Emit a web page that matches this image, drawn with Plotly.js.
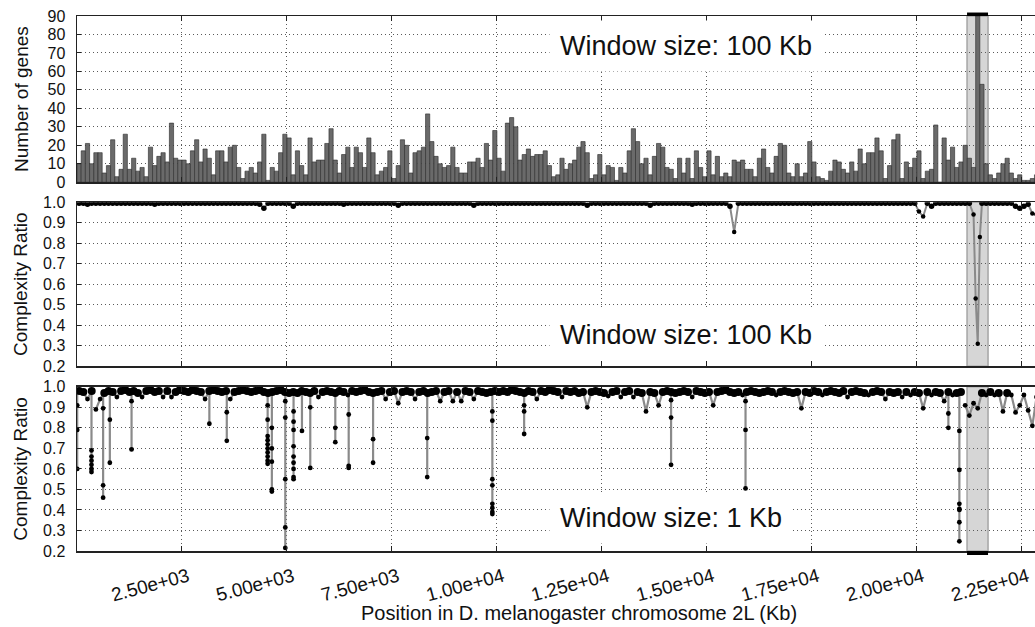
<!DOCTYPE html>
<html>
<head>
<meta charset="utf-8">
<script src="https://cdn.plot.ly/plotly-3.0.1.min.js"></script>
<style>
html,body{margin:0;padding:0;background:#fff;overflow:hidden;}
#chart{width:1042px;height:627px;}
</style>
</head>
<body>
<div id="chart"></div>
<script>
// ---------------- DATA ----------------
const windowKb = 100; // bin width of the 100 Kb windows

// Number of genes per 100 Kb window (window i covers [100*i, 100*i+100) Kb)
const geneCounts = [
  10,17,21,10,16,16,5,9,23,3,7,26,7,13,6,8,3,19,9,14,
  16,11,32,13,12,12,10,17,23,11,18,13,4,17,17,11,19,20,8,2,
  6,8,5,11,26,1,8,6,16,26,24,4,17,9,4,24,11,12,12,21,
  29,12,5,15,19,8,19,16,8,24,16,4,6,8,17,2,9,23,20,5,
  16,17,19,37,22,14,10,8,9,19,8,5,5,11,11,13,8,21,12,28,
  13,6,32,35,30,12,15,18,14,15,15,17,9,3,4,13,7,10,12,19,
  22,16,2,4,15,4,9,8,1,8,5,17,29,22,10,13,4,14,21,19,
  8,7,2,13,5,13,2,17,8,3,17,4,14,3,5,3,12,11,12,7,
  7,3,13,18,8,5,14,21,20,5,3,10,3,5,22,11,3,2,1,6,
  12,11,7,5,11,6,18,10,16,16,24,17,2,9,23,26,2,11,8,13,
  17,2,6,7,31,0,24,12,19,8,11,20,13,8,90,53,10,4,2,5,
  10,13,5,2,4,1,1,2,4
];

// Complexity ratio, 100 Kb windows
const ratio100 = [
  0.995,0.995,0.99,0.995,0.995,0.995,0.995,0.995,0.995,0.995,0.995,0.995,0.995,0.995,0.995,0.995,0.995,0.995,0.99,0.995,
  0.995,0.995,0.995,0.995,0.995,0.995,0.995,0.995,0.995,0.995,0.995,0.995,0.995,0.995,0.995,0.995,0.995,0.995,0.995,0.995,
  0.995,0.995,0.995,0.99,0.97,0.995,0.995,0.995,0.995,0.995,0.995,0.98,0.995,0.995,0.995,0.995,0.995,0.995,0.995,0.995,
  0.995,0.995,0.995,0.99,0.995,0.995,0.995,0.995,0.995,0.995,0.995,0.995,0.995,0.995,0.995,0.995,0.985,0.995,0.995,0.995,
  0.995,0.995,0.995,0.995,0.995,0.995,0.995,0.995,0.995,0.995,0.995,0.995,0.995,0.995,0.985,0.995,0.995,0.995,0.995,0.995,
  0.995,0.995,0.995,0.995,0.995,0.995,0.995,0.995,0.995,0.995,0.995,0.995,0.995,0.995,0.995,0.995,0.995,0.995,0.995,0.995,
  0.995,0.985,0.995,0.995,0.995,0.995,0.995,0.995,0.995,0.995,0.995,0.995,0.995,0.995,0.995,0.995,0.985,0.995,0.995,0.995,
  0.995,0.995,0.995,0.995,0.995,0.995,0.99,0.995,0.995,0.995,0.995,0.995,0.995,0.995,0.995,0.98,0.855,0.995,0.995,0.995,
  0.995,0.995,0.995,0.995,0.995,0.995,0.995,0.995,0.995,0.995,0.995,0.995,0.995,0.995,0.995,0.995,0.995,0.995,0.995,0.995,
  0.995,0.995,0.995,0.995,0.995,0.995,0.995,0.995,0.995,0.995,0.995,0.995,0.995,0.995,0.995,0.995,0.995,0.995,0.995,0.995,
  0.955,0.93,0.995,0.98,0.995,0.995,0.995,0.995,0.995,0.995,0.995,0.995,0.995,0.94,0.31,0.995,0.995,0.995,0.995,0.995,
  0.995,0.995,0.995,0.98,0.97,0.98,0.99,0.945,0.94
];
// extra 100 Kb points read inside the highlighted region (Kb, ratio)
const ratio100ExtraPos = [21400, 21500];
const ratio100ExtraVal = [0.53, 0.83];

// Complexity ratio, 1 Kb windows: level of the dense band, sampled per 100 Kb
const ratio1Band = [
  0.98,0.975,0.94,0.98,0.89,0.94,0.97,0.98,0.975,0.95,0.98,0.985,0.975,0.98,0.97,0.95,0.98,0.985,0.975,0.98,
  0.95,0.98,0.95,0.975,0.985,0.98,0.975,0.985,0.98,0.975,0.94,0.98,0.985,0.98,0.975,0.98,0.94,0.975,0.98,0.985,
  0.98,0.975,0.98,0.985,0.975,0.97,0.975,0.98,0.985,0.975,0.97,0.975,0.97,0.98,0.975,0.97,0.98,0.95,0.975,0.98,
  0.975,0.97,0.98,0.975,0.96,0.98,0.975,0.98,0.985,0.975,0.97,0.975,0.98,0.94,0.975,0.98,0.92,0.975,0.98,0.975,
  0.94,0.975,0.98,0.97,0.975,0.98,0.93,0.975,0.98,0.93,0.975,0.93,0.98,0.975,0.94,0.98,0.975,0.97,0.975,0.98,
  0.975,0.98,0.975,0.985,0.98,0.975,0.97,0.98,0.975,0.94,0.98,0.975,0.985,0.98,0.975,0.95,0.98,0.975,0.98,0.97,
  0.975,0.90,0.975,0.98,0.975,0.97,0.955,0.975,0.98,0.95,0.975,0.98,0.95,0.975,0.97,0.88,0.975,0.97,0.91,0.975,
  0.98,0.975,0.97,0.975,0.98,0.975,0.95,0.98,0.975,0.97,0.975,0.91,0.975,0.98,0.985,0.975,0.97,0.975,0.96,0.975,
  0.98,0.975,0.97,0.975,0.98,0.975,0.96,0.975,0.98,0.975,0.97,0.975,0.895,0.975,0.97,0.98,0.975,0.96,0.975,0.98,
  0.975,0.97,0.98,0.95,0.975,0.98,0.975,0.97,0.96,0.975,0.98,0.975,0.94,0.975,0.97,0.975,0.95,0.975,0.96,0.975,
  0.97,0.895,0.975,0.96,0.975,0.97,0.93,0.975,0.96,0.97,0.975,0.91,0.86,0.92,0.895,0.97,0.96,0.975,0.96,0.97,
  0.88,0.97,0.96,0.875,0.91,0.96,0.885,0.81,0.95
];
// deep 1 Kb dips: position (Kb) and the ratios of the points along each drop
const ratio1DipPos = [5, 345, 622, 782, 1299, 3152, 3567, 4540, 4640, 4960, 5157, 5357, 5555,
  6151, 6470, 7051, 8340, 9891, 10648, 14147, 15920, 20750, 21012];
const ratio1DipVals = [
  [0.91, 0.79, 0.60],
  [0.69, 0.66, 0.64, 0.62, 0.60, 0.585],
  [0.895, 0.52, 0.46],
  [0.84, 0.63],
  [0.93, 0.695],
  [0.82],
  [0.876, 0.737],
  [0.91, 0.84, 0.76, 0.74, 0.72, 0.70, 0.68, 0.66, 0.64, 0.625],
  [0.80, 0.70, 0.635, 0.50, 0.49],
  [0.93, 0.85, 0.55, 0.315, 0.215],
  [0.88, 0.83, 0.79, 0.71, 0.66, 0.63, 0.60, 0.56, 0.55],
  [0.785],
  [0.90, 0.605],
  [0.80, 0.73],
  [0.865, 0.615, 0.605],
  [0.745, 0.63],
  [0.75, 0.56],
  [0.88, 0.835, 0.55, 0.52, 0.43, 0.41, 0.39, 0.38],
  [0.91, 0.88, 0.77],
  [0.935, 0.85, 0.62],
  [0.93, 0.79, 0.505],
  [0.87, 0.80],
  [0.785, 0.595, 0.43, 0.405, 0.40, 0.34, 0.247]
];

const highlightKb = [21195, 21695];
const xTickVals = [2500, 5000, 7500, 10000, 12500, 15000, 17500, 20000, 22500];
const xTickText = ['2.50e+03','5.00e+03','7.50e+03','1.00e+04','1.25e+04','1.50e+04','1.75e+04','2.00e+04','2.25e+04'];
const ratioTickVals = [0.2,0.3,0.4,0.5,0.6,0.7,0.8,0.9,1.0];
const ratioTickText = ['0.2','0.3','0.4','0.5','0.6','0.7','0.8','0.9','1.0'];
const geneTickVals = [0,10,20,30,40,50,60,70,80,90];

const label100 = 'Window size: 100 Kb';
const label1 = 'Window size: 1 Kb';
const xTitle = 'Position in D. melanogaster chromosome 2L (Kb)';
const yTitleGenes = 'Number of genes';
const yTitleRatio = 'Complexity Ratio';

// ---------------- BUILD ----------------
const centerOf = i => i * windowKb + windowKb / 2;
const centers = geneCounts.map((_, i) => centerOf(i));

// 100 Kb ratio line (window centres plus extra points, ordered by position)
const mid = ratio100.map((v, i) => ({x: centerOf(i), y: v}))
  .concat(ratio100ExtraPos.map((p, k) => ({x: p, y: ratio100ExtraVal[k]})))
  .sort((a, b) => a.x - b.x);

// 1 Kb ratio: gray connecting line (band + vertical drops)
const bx = [], by = [];
const dx = [], dy = [];
ratio1Band.forEach((v, i) => {
  bx.push(centerOf(i)); by.push(v);
  ratio1DipPos.forEach((p, k) => {
    if (p >= i * windowKb && p < (i + 1) * windowKb) {
      bx.push(null); by.push(null);
      bx.push(p); by.push(v);
      ratio1DipVals[k].forEach(d => { bx.push(p); by.push(d); dx.push(p); dy.push(d); });
      bx.push(null); by.push(null);
    }
  });
});

const lineGray = '#8a8a8a';
const sizeFor = (v, big, small) => v >= 0.965 ? big : small;
const dot = (size) => ({color: '#000', size: size, opacity: 1, line: {width: 0}});
const traces = [
  {type: 'bar', x: centers, y: geneCounts, width: windowKb, xaxis: 'x', yaxis: 'y',
   marker: {color: '#6a6a6a', line: {color: '#2a2a2a', width: 0.6}}, hoverinfo: 'x+y'},
  // 100 Kb complexity ratio
  {type: 'scatter', mode: 'lines+markers', x: mid.map(p => p.x), y: mid.map(p => p.y),
   xaxis: 'x2', yaxis: 'y2', line: {color: lineGray, width: 2},
   marker: dot(mid.map(p => sizeFor(p.y, 5.5, 4.5)))},
  // 1 Kb complexity ratio: line
  {type: 'scatter', mode: 'lines', x: bx, y: by, connectgaps: false,
   xaxis: 'x3', yaxis: 'y3', line: {color: lineGray, width: 2.2}, hoverinfo: 'skip'},
  // 1 Kb: band points
  {type: 'scatter', mode: 'markers', x: centers, y: ratio1Band, xaxis: 'x3', yaxis: 'y3',
   marker: dot(ratio1Band.map(v => sizeFor(v, 8, 4.8)))},
  // 1 Kb: points along the drops
  {type: 'scatter', mode: 'markers', x: dx, y: dy, xaxis: 'x3', yaxis: 'y3',
   marker: dot(4.8)}
];

const FONT = 'Liberation Sans, Arial, Helvetica, sans-serif';
const xRange = [0, 22980];
const GRID = {showgrid: true, gridcolor: '#5a5a5a', griddash: '1px,3px', gridwidth: 1};
const xBase = Object.assign({
  range: xRange, tickmode: 'array', tickvals: xTickVals, ticktext: xTickText,
  showline: true, linecolor: '#222', linewidth: 1.5, mirror: 'ticks',
  ticks: 'inside', ticklen: 5, tickcolor: '#222',
  zeroline: false, showticklabels: false, fixedrange: true
}, GRID);
const yBase = Object.assign({
  showline: true, linecolor: '#222', linewidth: 1.5, mirror: 'ticks',
  ticks: 'inside', ticklen: 4, tickcolor: '#222',
  zeroline: false, tickfont: {family: FONT, size: 16, color: '#111'},
  ticklabelstandoff: 7, fixedrange: true
}, GRID);
const titleFont = {family: FONT, size: 19, color: '#111'};

const layout = {
  width: 1042, height: 627,
  margin: {l: 77, r: 0, t: 16, b: 76},
  paper_bgcolor: '#fff', plot_bgcolor: '#fff',
  showlegend: false,
  font: {family: FONT, color: '#111'},
  xaxis: Object.assign({}, xBase, {anchor: 'y', domain: [0, 1]}),
  xaxis2: Object.assign({}, xBase, {anchor: 'y2', domain: [0, 1], matches: 'x'}),
  xaxis3: Object.assign({}, xBase, {anchor: 'y3', domain: [0, 1], matches: 'x',
    showticklabels: true, tickangle: -15, ticklabelshift: 6,
    tickfont: {family: FONT, size: 19, color: '#111'}, ticklabelstandoff: 6}),
  yaxis: Object.assign({}, yBase, {domain: [0.6893, 1], range: [0, 90],
    tickmode: 'array', tickvals: geneTickVals, anchor: 'x',
    title: {text: yTitleGenes, font: titleFont, standoff: 14}}),
  yaxis2: Object.assign({}, yBase, {domain: [0.3454, 0.6520], range: [0.2, 1.0],
    tickmode: 'array', tickvals: ratioTickVals, ticktext: ratioTickText, anchor: 'x2',
    title: {text: yTitleRatio, font: titleFont, standoff: 10}}),
  yaxis3: Object.assign({}, yBase, {domain: [0, 0.3069], range: [0.2, 1.0],
    tickmode: 'array', tickvals: ratioTickVals, ticktext: ratioTickText, anchor: 'x3',
    title: {text: yTitleRatio, font: titleFont, standoff: 10}}),
  shapes: [
    {type: 'rect', xref: 'x', yref: 'y domain', x0: highlightKb[0], x1: highlightKb[1], y0: 0, y1: 1,
     fillcolor: '#d6d6d6', line: {color: '#a6a6a6', width: 1.5}, layer: 'below'},
    {type: 'rect', xref: 'x2', yref: 'y2 domain', x0: highlightKb[0], x1: highlightKb[1], y0: 0, y1: 1,
     fillcolor: '#d6d6d6', line: {color: '#a6a6a6', width: 1.5}, layer: 'below'},
    {type: 'rect', xref: 'x3', yref: 'y3 domain', x0: highlightKb[0], x1: highlightKb[1], y0: 0, y1: 1,
     fillcolor: '#d6d6d6', line: {color: '#a6a6a6', width: 1.5}, layer: 'below'},
    {type: 'rect', xref: 'x', yref: 'paper', x0: highlightKb[0], x1: highlightKb[1], y0: 1.0, y1: 1.0065,
     fillcolor: '#000', line: {width: 0}, layer: 'above'},
    {type: 'rect', xref: 'x3', yref: 'paper', x0: highlightKb[0], x1: highlightKb[1], y0: -0.0075, y1: 0,
     fillcolor: '#000', line: {width: 0}, layer: 'above'}
  ],
  annotations: [
    {xref: 'x', yref: 'y', x: 14505, y: 74, text: label100, showarrow: false,
     font: {family: FONT, size: 27, color: '#111'}, bgcolor: '#fff', borderpad: 10},
    {xref: 'x2', yref: 'y2', x: 14505, y: 0.352, text: label100, showarrow: false,
     font: {family: FONT, size: 27, color: '#111'}, bgcolor: '#fff', borderpad: 10},
    {xref: 'x3', yref: 'y3', x: 14146, y: 0.362, text: label1, showarrow: false,
     font: {family: FONT, size: 27, color: '#111'}, bgcolor: '#fff', borderpad: 10},
    {xref: 'paper', yref: 'paper', x: 0.52, y: -0.1159, yanchor: 'middle', xanchor: 'center',
     text: xTitle, showarrow: false, font: {family: FONT, size: 20, color: '#111'}}
  ]
};

Plotly.newPlot('chart', traces, layout, {displayModeBar: false, staticPlot: true});
</script>
</body>
</html>
